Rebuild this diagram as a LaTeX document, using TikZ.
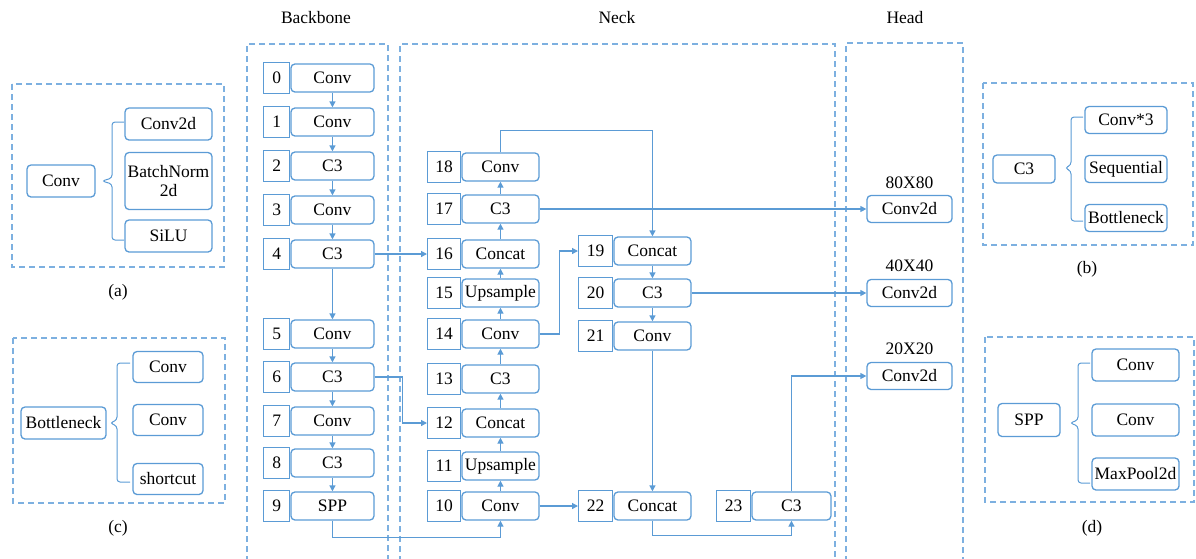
\documentclass[tikz,border=0pt]{standalone}
\usepackage{fontspec}
\setmainfont{Liberation Serif}
\usetikzlibrary{arrows.meta,calc}
\definecolor{bl}{HTML}{5B9BD5}
\definecolor{dl}{HTML}{7DB0E0}
\newcommand\mklayer[7]{%
  \node[numbox,minimum width=#6,anchor=west] (#1n) at (#4,#5) {#2};
  \node[mainbox,minimum width=#7,anchor=west] (#1) at (#1n.east) {#3};}
\newcommand\mkbrace[6]{%
  \draw[ln,line width=1pt,rounded corners=3pt] (#5,#2) -- (#1,#2) -- (#1,#4-3) -- (#6,#4) -- (#1,#4+3) -- (#1,#3) -- (#5,#3);}
\begin{document}
\begin{tikzpicture}[x=1pt,y=-1pt,
  txt/.style={font=\fontsize{17.5}{19}\selectfont},
  numbox/.style={draw=bl,line width=1.3pt,minimum height=31pt,inner sep=0pt,txt},
  mainbox/.style={draw=bl,line width=1.3pt,rounded corners=4pt,minimum height=28pt,inner sep=0pt,txt},
  sbox/.style={draw=bl,line width=1.3pt,rounded corners=4pt,inner sep=0pt,align=center,txt},
  dbox/.style={draw=dl,line width=1.3pt,dash pattern=on 6pt off 4pt},
  arr/.style={draw=bl,line width=1.3pt,-{Triangle[length=6pt,width=6pt]}},
  ln/.style={draw=bl,line width=1.3pt},
  lab/.style={inner sep=0pt,txt}]
\useasboundingbox (0,0) rectangle (1196,558);
% section frames
\draw[dbox] (247,562) -- (247,44) -- (388,44) -- (388,562);
\draw[dbox] (400,562) -- (400,44) -- (835,44) -- (835,562);
\draw[dbox] (846,562) -- (846,43) -- (963,43) -- (963,562);
\node[lab] (tb) at (316,18) {Backbone};
\node[lab] (tn) at (617,18) {Neck};
\node[lab] (th) at (905,18) {Head};
% backbone
\mklayer{b0}{0}{Conv}{263}{78}{26pt}{83pt}
\mklayer{b1}{1}{Conv}{263}{122}{26pt}{83pt}
\mklayer{b2}{2}{C3}{263}{166}{26pt}{83pt}
\mklayer{b3}{3}{Conv}{263}{210}{26pt}{83pt}
\mklayer{b4}{4}{C3}{263}{254}{26pt}{83pt}
\mklayer{b5}{5}{Conv}{263}{334}{26pt}{83pt}
\mklayer{b6}{6}{C3}{263}{377}{26pt}{83pt}
\mklayer{b7}{7}{Conv}{263}{421}{26pt}{83pt}
\mklayer{b8}{8}{C3}{263}{463}{26pt}{83pt}
\mklayer{b9}{9}{SPP}{263}{506}{26pt}{83pt}
% neck left column
\mklayer{n18}{18}{Conv}{427}{167}{33pt}{77pt}
\mklayer{n17}{17}{C3}{427}{209}{33pt}{77pt}
\mklayer{n16}{16}{Concat}{427}{254}{33pt}{77pt}
\mklayer{n15}{15}{Upsample}{427}{293}{33pt}{77pt}
\mklayer{n14}{14}{Conv}{427}{334}{33pt}{77pt}
\mklayer{n13}{13}{C3}{427}{379}{33pt}{77pt}
\mklayer{n12}{12}{Concat}{427}{423}{33pt}{77pt}
\mklayer{n11}{11}{Upsample}{427}{466}{33pt}{77pt}
\mklayer{n10}{10}{Conv}{427}{506}{33pt}{77pt}
% neck right column
\mklayer{n19}{19}{Concat}{578}{251}{34pt}{77pt}
\mklayer{n20}{20}{C3}{578}{293}{34pt}{77pt}
\mklayer{n21}{21}{Conv}{578}{336}{34pt}{77pt}
\mklayer{n22}{22}{Concat}{578}{506}{34pt}{77pt}
\mklayer{n23}{23}{C3}{716}{506}{34pt}{79pt}
% head
\node[mainbox,minimum width=85pt,minimum height=27pt] (h80) at (909.5,209) {Conv2d};
\node[mainbox,minimum width=85pt,minimum height=27pt] (h40) at (909.5,293) {Conv2d};
\node[mainbox,minimum width=85pt,minimum height=27pt] (h20) at (909.5,376) {Conv2d};
\node[lab] (l80) at (909.5,183) {80X80};
\node[lab] (l40) at (909.5,266) {40X40};
\node[lab] (l20) at (909.5,349) {20X20};
% backbone arrows
\foreach \a/\b in {b0/b1,b1/b2,b2/b3,b3/b4,b4/b5,b5/b6,b6/b7,b7/b8,b8/b9}
  \draw[arr] (\a.south) -- (\b.north);
% neck up arrows
\foreach \a/\b in {n10/n11,n11/n12,n12/n13,n13/n14,n14/n15,n15/n16,n16/n17,n17/n18}
  \draw[arr] (\a.north) -- (\b.south);
\foreach \a/\b in {n19/n20,n20/n21,n21/n22}
  \draw[arr] (\a.south) -- (\b.north);
% cross connections
\draw[arr] (b4.east) -- (n16n.west);
\draw[arr] (b6.east) -- ++(28,0) |- (n12n.west);
\draw[arr] (b9.south) -- ++(0,17) -| (n10.south);
\draw[arr] (n10.east) -- (n22n.west);
\draw[arr] (n14.east) -- ++(20,0) |- (n19n.west);
\draw[arr] (n18.north) -- ++(0,-22) -| (n19.north);
\draw[arr] (n17.east) -- (h80.west);
\draw[arr] (n20.east) -- (h40.west);
\draw[arr] (n22.south) -- ++(0,15) -| (n23.south);
\draw[arr] (n23.north) |- (h20.west);
% panel (a)
\draw[dbox] (12,84) rectangle (224,267);
\node[sbox,minimum width=68pt,minimum height=32pt] (aconv) at (61,181) {Conv};
\node[sbox,minimum width=87pt,minimum height=32pt] (a1) at (168.5,124) {Conv2d};
\node[sbox,minimum width=87pt,minimum height=57pt] (a2) at (168.5,181) {BatchNorm\\2d};
\node[sbox,minimum width=87pt,minimum height=32pt] (a3) at (168.5,236) {SiLU};
\mkbrace{112}{122}{240}{181}{124}{102}
\node[lab] (la) at (118,292) {(a)};
% panel (c)
\draw[dbox] (13,338) rectangle (225,503);
\node[sbox,minimum width=85pt,minimum height=32pt] (cb) at (63.5,423) {Bottleneck};
\node[sbox,minimum width=70pt,minimum height=31pt] (c1) at (168,367) {Conv};
\node[sbox,minimum width=70pt,minimum height=31pt] (c2) at (168,420) {Conv};
\node[sbox,minimum width=70pt,minimum height=31pt] (c3) at (168,479) {shortcut};
\mkbrace{117}{363}{482}{423}{130}{110}
\node[lab] (lc) at (118,528) {(c)};
% panel (b)
\draw[dbox] (983,83) rectangle (1193,245);
\node[sbox,minimum width=62pt,minimum height=28pt] (bc) at (1024,169) {C3};
\node[sbox,minimum width=82pt,minimum height=27pt] (bb1) at (1126,120) {Conv*3};
\node[sbox,minimum width=82pt,minimum height=27pt] (bb2) at (1126,169) {Sequential};
\node[sbox,minimum width=82pt,minimum height=27pt] (bb3) at (1126,218) {Bottleneck};
\mkbrace{1071}{117}{221}{168}{1083}{1065}
\node[lab] (lb) at (1087,269) {(b)};
% panel (d)
\draw[dbox] (985,337) rectangle (1194,502);
\node[sbox,minimum width=62pt,minimum height=33pt] (ds) at (1029,420) {SPP};
\node[sbox,minimum width=87pt,minimum height=32pt] (d1) at (1135.5,365) {Conv};
\node[sbox,minimum width=87pt,minimum height=32pt] (d2) at (1135.5,420) {Conv};
\node[sbox,minimum width=87pt,minimum height=32pt] (d3) at (1135.5,474) {MaxPool2d};
\mkbrace{1078}{363}{483}{423}{1090}{1070}
\node[lab] (ld) at (1092,528) {(d)};
\end{tikzpicture}
\end{document}
